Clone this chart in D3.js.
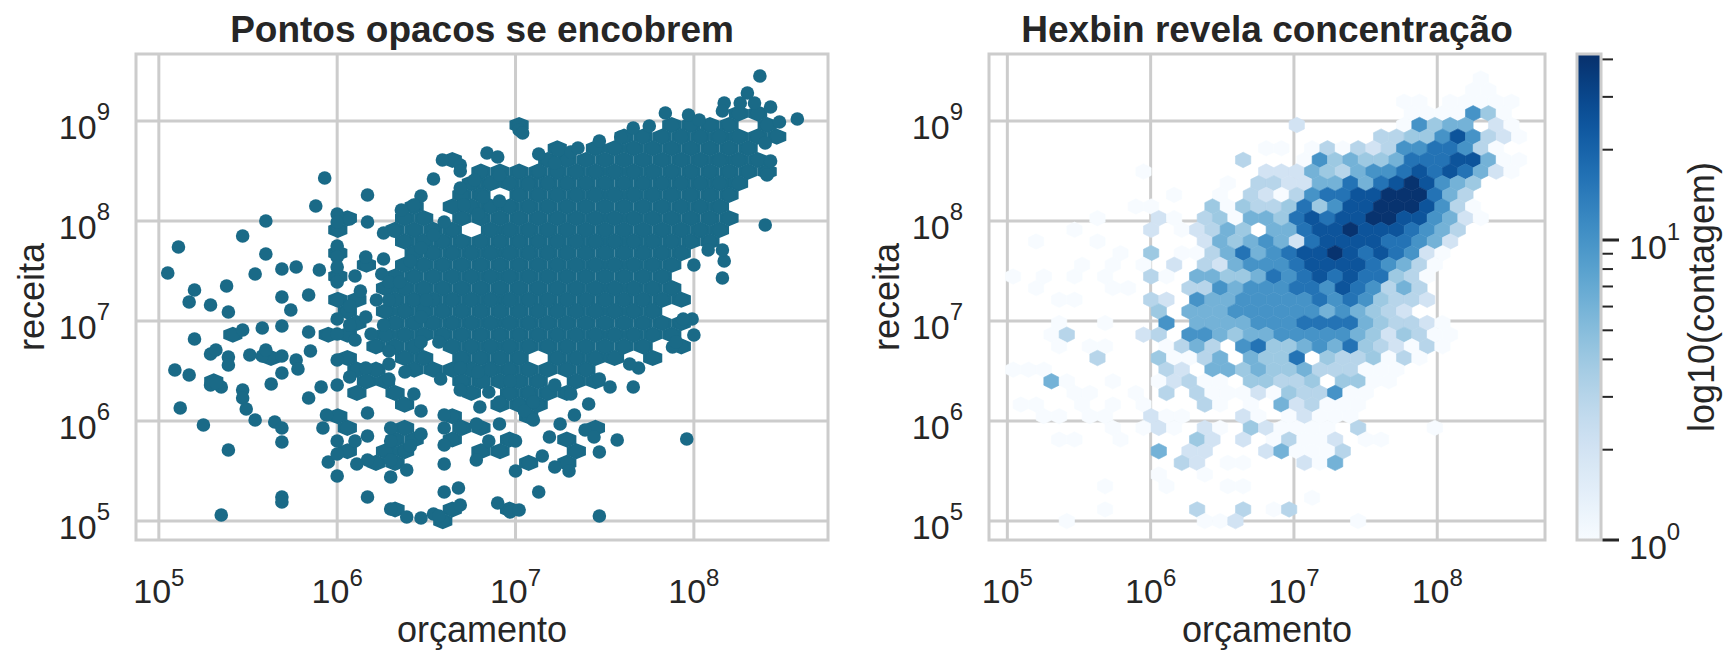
<!DOCTYPE html>
<html><head><meta charset="utf-8">
<script src="https://cdn.jsdelivr.net/npm/d3@7"></script>
<style>body{margin:0;background:#fff}svg{display:block}text{font-family:"Liberation Sans",Arial,sans-serif;fill:#262626}</style>
</head><body><svg id="c" width="1736" height="671"></svg>
<script>
// ---------- data ----------
const titles = ["Pontos opacos se encobrem", "Hexbin revela concentração"];
const xLabel = "orçamento", yLabel = "receita", cbLabel = "log10(contagem)";
const xTickExp = [5, 6, 7, 8];
const yTickExp = [5, 6, 7, 8, 9];
const cbTickExp = [0, 1];
// hexbin lattice (log10 units): centre of cell (k,r) = (binX0 + k*binDX/2, binY0 - r*binDY/2)
const binX0 = 7.02, binDX = 0.107, binY0 = 8.96, binDY = 0.233;
// hex cells: [k, r, count]
const hexCells = [
[24,-4,1],[23,-3,1],[25,-3,1],
[14,-2,1],[16,-2,1],[20,-2,1],[22,-2,1],[24,-2,1],[26,-2,1],[28,-2,1],
[15,-1,1],[17,-1,1],[19,-1,1],[21,-1,1],[23,-1,10],[25,-1,4],[27,-1,1],
[0,0,2],[14,0,1],[16,0,10],[18,0,4],[20,0,6],[22,0,6],[26,0,2],[28,0,1],
[11,1,3],[13,1,3],[15,1,4],[17,1,4],[19,1,10],[21,1,25],[23,1,10],[25,1,3],[27,1,2],[29,1,1],
[-4,2,1],[-2,2,1],[2,2,1],[4,2,3],[6,2,1],[8,2,3],[10,2,2],[12,2,3],[14,2,10],[16,2,10],[18,2,16],[20,2,16],[22,2,10],[24,2,3],[26,2,1],
[-7,3,3],[1,3,1],[3,3,10],[5,3,4],[7,3,6],[9,3,4],[11,3,4],[13,3,6],[15,3,16],[17,3,16],[19,3,16],[21,3,25],[23,3,25],[25,3,6],[27,3,1],[29,3,1],
[-20,4,1],[-4,4,2],[-2,4,2],[0,4,2],[2,4,6],[4,4,4],[6,4,3],[8,4,6],[10,4,10],[12,4,10],[14,4,16],[16,4,25],[18,4,16],[20,4,25],[22,4,16],[24,4,6],[26,4,2],[28,4,1],
[-9,5,1],[-5,5,3],[-3,5,3],[-1,5,2],[1,5,2],[3,5,6],[5,5,6],[7,5,16],[9,5,6],[11,5,16],[13,5,25],[15,5,40],[17,5,25],[19,5,10],[21,5,6],[23,5,4],
[-16,6,1],[-10,6,1],[-6,6,3],[-4,6,2],[-2,6,1],[0,6,3],[2,6,10],[4,6,16],[6,6,16],[8,6,25],[10,6,25],[12,6,40],[14,6,40],[16,6,40],[18,6,16],[20,6,6],[22,6,3],
[-21,7,1],[-19,7,1],[-11,7,4],[-9,7,1],[-7,7,4],[-5,7,3],[-3,7,3],[-1,7,4],[1,7,16],[3,7,4],[5,7,10],[7,7,25],[9,7,25],[11,7,40],[13,7,40],[15,7,40],[17,7,25],[19,7,10],[21,7,3],[23,7,1],
[-26,8,1],[-18,8,2],[-16,8,1],[-12,8,3],[-10,8,4],[-8,8,1],[-6,8,6],[-4,8,6],[-2,8,4],[0,8,16],[2,8,25],[4,8,16],[6,8,25],[8,8,25],[10,8,40],[12,8,40],[14,8,25],[16,8,25],[18,8,10],[20,8,6],[22,8,2],[24,8,1],
[-29,9,1],[-19,9,2],[-15,9,1],[-13,9,2],[-11,9,3],[-9,9,6],[-7,9,4],[-3,9,6],[-1,9,6],[1,9,16],[3,9,25],[5,9,25],[7,9,40],[9,9,25],[11,9,25],[13,9,25],[15,9,16],[17,9,10],[19,9,6],[21,9,3],
[-34,10,1],[-26,10,1],[-12,10,2],[-10,10,6],[-8,10,4],[-6,10,6],[-4,10,10],[-2,10,6],[0,10,2],[2,10,16],[4,10,25],[6,10,25],[8,10,25],[10,10,25],[12,10,16],[14,10,16],[16,10,10],[18,10,6],[20,10,2],
[-23,11,1],[-19,11,4],[-15,11,1],[-13,11,1],[-11,11,3],[-9,11,6],[-7,11,16],[-5,11,6],[-3,11,10],[-1,11,16],[1,11,25],[3,11,25],[5,11,40],[7,11,25],[9,11,16],[11,11,25],[13,11,16],[15,11,10],[17,11,2],[19,11,1],
[-28,12,1],[-24,12,1],[-20,12,1],[-16,12,2],[-12,12,3],[-10,12,2],[-8,12,6],[-6,12,10],[-4,12,10],[-2,12,10],[0,12,16],[2,12,25],[4,12,25],[6,12,25],[8,12,25],[10,12,16],[12,12,10],[14,12,6],[16,12,3],[18,12,1],
[-37,13,1],[-33,13,1],[-29,13,1],[-25,13,1],[-19,13,3],[-17,13,1],[-13,13,6],[-11,13,6],[-9,13,4],[-7,13,4],[-5,13,6],[-3,13,16],[-1,13,10],[1,13,16],[3,13,25],[5,13,16],[7,13,25],[9,13,16],[11,13,16],[13,13,4],[15,13,3],[17,13,1],
[-34,14,1],[-24,14,1],[-22,14,1],[-14,14,3],[-12,14,3],[-10,14,10],[-8,14,6],[-6,14,10],[-4,14,10],[-2,14,10],[0,14,16],[2,14,16],[4,14,10],[6,14,25],[8,14,16],[10,14,10],[12,14,3],[14,14,6],[16,14,3],
[-31,15,1],[-29,15,1],[-19,15,3],[-17,15,2],[-13,15,10],[-11,15,6],[-9,15,6],[-7,15,10],[-5,15,10],[-3,15,10],[-1,15,10],[1,15,10],[3,15,16],[5,15,10],[7,15,16],[9,15,10],[11,15,4],[13,15,3],[15,15,3],[17,15,2],
[-18,16,4],[-14,16,6],[-12,16,6],[-10,16,6],[-8,16,10],[-6,16,10],[-4,16,10],[-2,16,10],[0,16,10],[2,16,10],[4,16,6],[6,16,10],[8,16,6],[10,16,4],[12,16,3],[14,16,2],
[-31,17,1],[-25,17,1],[-17,17,10],[-13,17,6],[-11,17,6],[-9,17,6],[-7,17,6],[-5,17,10],[-3,17,10],[-1,17,10],[1,17,16],[3,17,16],[5,17,16],[7,17,16],[9,17,6],[11,17,4],[13,17,3],[15,17,3],[17,17,2],[19,17,1],
[-32,18,1],[-30,18,3],[-20,18,2],[-18,18,3],[-14,18,10],[-12,18,10],[-10,18,6],[-8,18,4],[-6,18,6],[-4,18,6],[-2,18,10],[0,18,10],[2,18,10],[4,18,10],[6,18,10],[8,18,6],[10,18,4],[12,18,2],[14,18,4],[16,18,3],[18,18,1],[20,18,1],
[-31,19,1],[-27,19,1],[-25,19,1],[-17,19,1],[-15,19,3],[-13,19,6],[-11,19,3],[-7,19,10],[-5,19,16],[-3,19,4],[-1,19,4],[1,19,6],[3,19,10],[5,19,6],[7,19,16],[9,19,4],[11,19,3],[13,19,2],[15,19,1],[17,19,3],[19,19,1],
[-26,20,3],[-18,20,4],[-16,20,1],[-14,20,1],[-12,20,3],[-10,20,6],[-6,20,6],[-4,20,4],[-2,20,4],[0,20,16],[4,20,4],[6,20,3],[8,20,3],[10,20,4],[12,20,1],[14,20,3],[16,20,1],
[-37,21,1],[-35,21,1],[-33,21,1],[-17,21,3],[-15,21,2],[-11,21,6],[-9,21,6],[-7,21,4],[-5,21,6],[-3,21,4],[-1,21,4],[1,21,6],[3,21,3],[5,21,3],[7,21,3],[9,21,1],[11,21,1],[13,21,1],
[-32,22,6],[-30,22,1],[-24,22,1],[-18,22,1],[-16,22,2],[-14,22,3],[-12,22,1],[-10,22,1],[-6,22,4],[-4,22,4],[-2,22,3],[0,22,3],[2,22,4],[6,22,4],[8,22,4],[10,22,1],[12,22,1],
[-29,23,1],[-27,23,1],[-21,23,1],[-17,23,3],[-13,23,3],[-11,23,1],[-9,23,1],[-7,23,1],[-5,23,2],[-3,23,1],[-1,23,4],[1,23,3],[3,23,3],[5,23,10],[7,23,1],[9,23,1],
[-36,24,1],[-34,24,1],[-28,24,1],[-24,24,1],[-20,24,1],[-12,24,3],[-10,24,1],[-6,24,1],[-2,24,6],[0,24,2],[2,24,3],[4,24,1],[6,24,1],[8,24,1],
[-33,25,1],[-31,25,1],[-27,25,1],[-25,25,1],[-19,25,2],[-17,25,1],[-15,25,1],[-7,25,2],[-5,25,1],[-1,25,1],[1,25,2],[3,25,1],[5,25,1],[7,25,1],
[-24,26,1],[-20,26,1],[-18,26,2],[-16,26,1],[-12,26,2],[-10,26,1],[-6,26,4],[-4,26,2],[-2,26,1],[0,26,1],[2,26,1],[4,26,1],[8,26,3],[18,26,1],
[-31,27,1],[-29,27,1],[-23,27,1],[-13,27,4],[-11,27,2],[-7,27,2],[-3,27,1],[-1,27,3],[1,27,1],[3,27,1],[5,27,2],[9,27,1],[11,27,1],
[-18,28,6],[-14,28,2],[-12,28,2],[-4,28,2],[-2,28,6],[0,28,1],[2,28,1],[4,28,1],[6,28,3],
[-15,29,3],[-13,29,2],[-9,29,1],[-7,29,1],[1,29,2],[3,29,1],[5,29,6],
[-18,30,1],[-12,30,1],
[-25,31,1],[-17,31,1],[-9,31,1],[-7,31,1],
[2,32,1],
[-25,33,1],[-13,33,3],[-7,33,3],[-3,33,1],[-1,33,3],
[-30,34,1],[-12,34,1],[-10,34,1],[-8,34,2],[8,34,1]
];
// individually read scatter points: log10 orçamento / log10 receita
const sparseBudgetLog = [5.05,5.11,5.20,5.17,5.20,5.09,5.17,5.12,5.25,5.29,5.38,5.39,5.47,5.54,5.60,5.60,5.47,5.58,5.29,5.32,5.39,5.39,5.51,5.58,5.60,5.29,5.35,5.32,5.47,5.47,5.49,5.54,5.63,5.65,5.69,5.69,5.39,5.35,5.69,5.69,5.69,5.77,5.69,5.74,5.69,5.69,5.69,5.77,5.78,5.84,5.84,5.85,5.84,5.88,5.93,5.90,5.91,5.94,5.92,5.95,6.00,6.00,6.00,6.00,6.00,6.00,6.00,6.00,6.00,6.00,6.00,6.00,6.00,6.00,6.07,6.17,6.17,6.10,6.07,6.07,6.10,6.07,6.16,6.10,6.17,6.17,6.17,6.11,6.17,6.30,6.30,6.30,6.30,6.30,6.39,6.39,6.41,6.47,6.47,6.54,6.57,6.60,6.60,6.60,6.60,6.68,6.69,6.69,6.60,6.78,6.78,6.85,6.90,6.97,7.02,7.00,7.00,7.13,7.15,7.22,7.30,7.19,7.25,7.33,7.39,7.44,7.47,7.47,7.57,7.96,7.66,7.53,7.69,7.64,7.47,7.88,7.90,8.00,7.99,7.94,8.16,8.17,8.00,8.08,8.16,8.40,8.41,8.43,8.40,8.48,8.58,8.43,8.37,8.30,8.17,8.34,8.26,7.02,7.04,6.59,6.69,6.69,6.84,6.90,6.54,6.69,6.77,6.91,6.47,6.36,6.43,6.26,6.32,6.41,6.26,6.25,6.29,6.22,6.29,6.35,6.26,6.16,6.19,6.29,6.29,6.29,6.38,6.43,6.47,6.58,6.47,6.47,6.43,6.57,6.69,6.69,6.80,6.85,6.91,6.91,7.05,7.10,7.31,7.22,7.41,7.10,6.97,6.82,6.79,6.50,6.16,6.13,6.60,6.54,6.47,6.71,6.82,6.79,6.91,7.07,7.13,7.22,7.31,7.47,7.59,7.66,7.75,7.84,7.97,8.03,8.16,7.13,7.24,7.35];
const sparseRevenueLog = [7.48,7.74,7.31,7.19,6.82,6.51,6.46,6.13,5.96,7.16,7.35,7.09,7.85,7.47,8.00,7.67,6.91,6.93,6.67,6.71,6.64,6.56,6.66,6.65,6.71,6.36,6.34,6.38,6.31,6.23,6.12,6.01,6.37,5.99,5.93,5.79,5.71,5.06,5.24,5.19,7.52,7.54,7.24,7.11,6.95,6.65,6.48,6.61,6.52,7.26,6.89,6.70,6.23,8.15,8.43,7.51,6.34,6.06,5.93,5.59,5.45,5.67,5.80,6.36,6.61,8.07,7.99,7.75,7.64,7.54,7.39,7.21,7.02,6.87,8.02,8.26,7.99,7.45,7.15,6.96,6.81,6.44,6.53,5.80,6.08,5.85,5.61,5.57,5.24,5.93,5.80,5.61,5.44,5.12,5.04,5.51,5.75,5.03,5.87,5.07,5.05,5.29,5.57,6.06,5.76,5.33,5.16,5.93,5.93,5.97,5.61,5.80,5.18,5.09,5.11,5.50,5.80,5.29,5.65,5.54,5.50,5.84,5.97,6.06,5.91,5.84,5.69,5.05,5.81,5.82,6.34,6.34,6.53,6.57,6.42,6.74,6.79,6.86,7.02,7.02,7.43,7.60,7.56,7.71,7.71,7.96,8.46,8.60,8.78,8.99,9.02,9.14,9.45,9.28,9.18,9.18,9.18,8.91,8.88,8.61,8.56,8.50,8.68,8.64,8.42,8.33,8.41,8.46,8.25,8.11,8.16,7.88,7.90,7.60,7.62,7.47,7.39,7.21,7.21,7.39,6.96,7.04,6.87,6.70,6.57,6.42,6.49,6.27,6.10,6.42,6.79,7.04,7.21,6.79,6.31,6.53,6.14,6.29,6.19,5.97,6.10,6.01,6.27,6.36,6.17,6.19,6.40,6.40,6.49,7.21,7.64,7.30,7.99,7.86,7.73,8.16,8.24,8.07,8.20,8.37,8.50,8.58,8.69,8.80,8.84,8.93,8.95,9.08,9.06,9.01,9.10,8.67,8.71,8.73];

// ---------- drawing ----------
(function () {
const svg = d3.select("#c");
const FONT = '"Liberation Sans",Arial,sans-serif';
const xDom = [10**4.872, 10**8.752], yDom = [10**4.81, 10**9.67];
const TOP = 54, BOTTOM = 540;
const panels = [{x0:136, x1:828}, {x0:989, x1:1545}];
panels.forEach(p => {
  p.x = d3.scaleLog().domain(xDom).range([p.x0, p.x1]);
  p.y = d3.scaleLog().domain(yDom).range([BOTTOM, TOP]);
});
const GRID = "#cccccc", DOT = "#1a6a87";
const vmax = 10**1.62;
const cScale = d3.scaleLog().domain([1, vmax]).range([0, 1]);
const color = c => d3.interpolateBlues(cScale(c));

function hexPath(p, c, grow) {
  const lx = binX0 + c[0] * binDX / 2, ly = binY0 - c[1] * binDY / 2;
  const cx = p.x(10 ** lx), cy = p.y(10 ** ly);
  const hw = (p.x(10 ** (lx + binDX / 2)) - cx) * grow;
  const a = (cy - p.y(10 ** (ly + binDY / 3))) * grow;
  const b = (cy - p.y(10 ** (ly + binDY / 6))) * grow;
  return `M${cx + hw},${cy - b}L${cx + hw},${cy + b}L${cx},${cy + a}L${cx - hw},${cy + b}L${cx - hw},${cy - b}L${cx},${cy - a}Z`;
}
function supLabel(g, x, y, exp, anchor, dy) {
  const t = g.append("text").attr("x", x).attr("y", y).attr("text-anchor", anchor).style("font-family", FONT);
  t.append("tspan").attr("font-size", 34).text("10");
  t.append("tspan").attr("font-size", 24).attr("dy", dy).text(exp);
}

panels.forEach((p, i) => {
  const g = svg.append("g");
  xTickExp.forEach(e => g.append("line").attr("x1", p.x(10**e)).attr("x2", p.x(10**e))
    .attr("y1", TOP).attr("y2", BOTTOM).attr("stroke", GRID).attr("stroke-width", 3));
  yTickExp.forEach(e => g.append("line").attr("y1", p.y(10**e)).attr("y2", p.y(10**e))
    .attr("x1", p.x0).attr("x2", p.x1).attr("stroke", GRID).attr("stroke-width", 3));
  const clip = "clip" + i;
  svg.append("clipPath").attr("id", clip).append("rect")
    .attr("x", p.x0).attr("y", TOP).attr("width", p.x1 - p.x0).attr("height", BOTTOM - TOP);
  const m = g.append("g").attr("clip-path", `url(#${clip})`);
  if (i === 0) {
    // overlapping opaque points fuse into a solid mass where the bins are crowded
    m.selectAll("path").data(hexCells.filter(c => c[2] >= 2)).join("path")
      .attr("d", c => hexPath(p, c, 0.9)).attr("fill", DOT).attr("stroke", DOT).attr("stroke-width", 2);
    const pts = [];
    hexCells.filter(c => c[2] >= 2).forEach(c => pts.push([binX0 + c[0] * binDX / 2, binY0 - c[1] * binDY / 2]));
    sparseBudgetLog.forEach((b, j) => pts.push([b, sparseRevenueLog[j]]));
    m.selectAll("circle").data(pts).join("circle")
      .attr("cx", d => p.x(10 ** d[0])).attr("cy", d => p.y(10 ** d[1]))
      .attr("r", 6.8).attr("fill", DOT);
  } else {
    m.selectAll("path").data(hexCells).join("path")
      .attr("d", c => hexPath(p, c, 1))
      .attr("fill", c => color(c[2])).attr("stroke", c => color(c[2])).attr("stroke-width", 0.6);
  }
  g.append("rect").attr("x", p.x0).attr("y", TOP).attr("width", p.x1 - p.x0).attr("height", BOTTOM - TOP)
    .attr("fill", "none").attr("stroke", GRID).attr("stroke-width", 3);
  xTickExp.forEach(e => supLabel(g, p.x(10**e), 603, e, "middle", -17));
  yTickExp.forEach(e => supLabel(g, p.x0 - 26, p.y(10**e) + 18, e, "end", -19));
  g.append("text").attr("x", (p.x0 + p.x1) / 2).attr("y", 642).attr("text-anchor", "middle")
    .attr("font-size", 36).text(xLabel);
  const ylx = i === 0 ? 44 : 899;
  g.append("text").attr("transform", `translate(${ylx},${(TOP + BOTTOM) / 2}) rotate(-90)`)
    .attr("text-anchor", "middle").attr("font-size", 36).text(yLabel);
  g.append("text").attr("x", (p.x0 + p.x1) / 2).attr("y", 42).attr("text-anchor", "middle")
    .attr("font-size", 37).attr("font-weight", "bold").text(titles[i]);
});

const cb = {x0:1577, x1:1601};
const cyS = d3.scaleLog().domain([1, vmax]).range([BOTTOM, TOP]);
const grad = svg.append("defs").append("linearGradient").attr("id", "cbg")
  .attr("x1", 0).attr("y1", 1).attr("x2", 0).attr("y2", 0);
d3.range(0, 1.0001, 0.05).forEach(t => grad.append("stop").attr("offset", t).attr("stop-color", d3.interpolateBlues(t)));
svg.append("rect").attr("x", cb.x0).attr("y", TOP).attr("width", cb.x1 - cb.x0).attr("height", BOTTOM - TOP)
  .attr("fill", "url(#cbg)").attr("stroke", GRID).attr("stroke-width", 3);
[2,3,4,5,6,7,8,9,20,30,40].forEach(v => svg.append("line").attr("x1", cb.x1 + 1.5).attr("x2", cb.x1 + 12)
  .attr("y1", cyS(v)).attr("y2", cyS(v)).attr("stroke", "#262626").attr("stroke-width", 2));
cbTickExp.forEach(e => {
  svg.append("line").attr("x1", cb.x1 + 1.5).attr("x2", cb.x1 + 18)
    .attr("y1", cyS(10**e)).attr("y2", cyS(10**e)).attr("stroke", "#262626").attr("stroke-width", 3);
  supLabel(svg, 1629, cyS(10**e) + 19, e, "start", -19);
});
svg.append("text").attr("transform", `translate(1714,${(TOP + BOTTOM) / 2}) rotate(-90)`)
  .attr("text-anchor", "middle").attr("font-size", 36).text(cbLabel);
})();
</script></body></html>
